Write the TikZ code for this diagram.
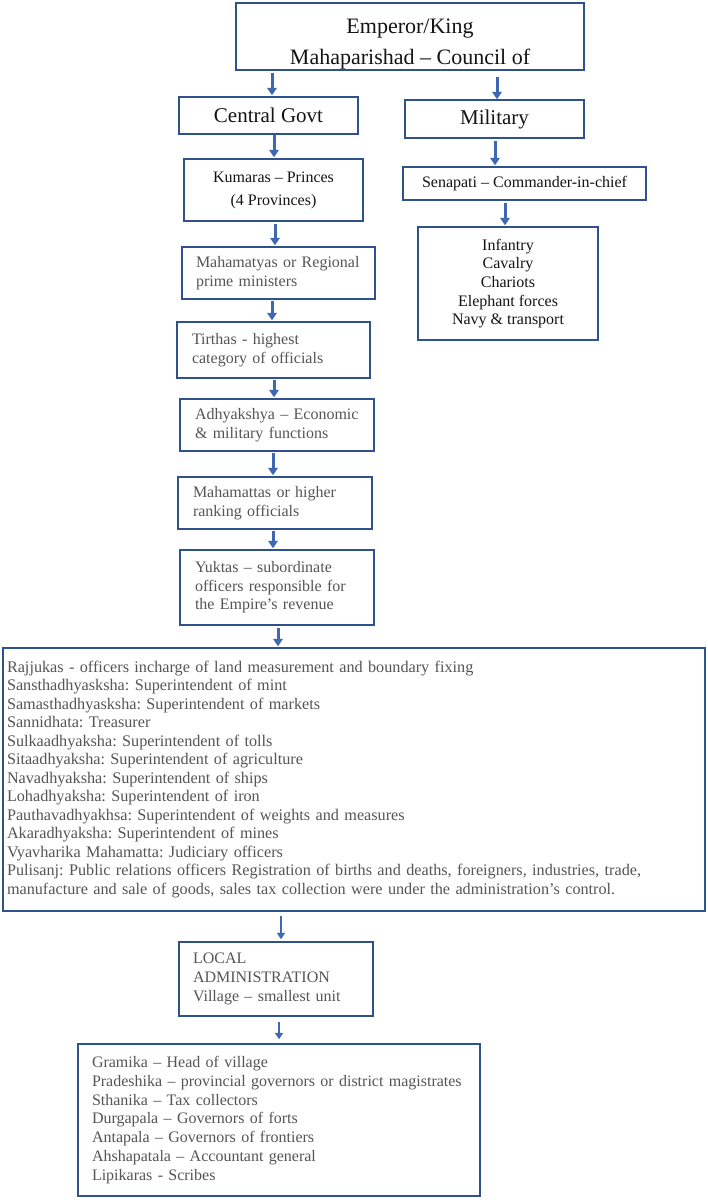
\documentclass[tikz,border=0pt]{standalone}
\usepackage{fontspec}
\setmainfont{Liberation Serif}
\usetikzlibrary{arrows.meta}
\definecolor{boxc}{HTML}{2F528F}
\definecolor{arrc}{HTML}{3E68B4}
\definecolor{txtg}{HTML}{555555}
\definecolor{txtd}{HTML}{141414}
\begin{document}
\frenchspacing
\begin{tikzpicture}[x=1pt,y=-1pt,
  box/.style={draw=boxc, line width=1.4pt, rectangle, inner sep=0pt, fill=white},
  cbox/.style={box, align=center, text=txtd},
  lbox/.style={box, align=left, text=txtg},
  arr/.style={draw=arrc, line width=3pt, -{Triangle[width=9.5pt,length=7.5pt]}},
  sarr/.style={draw=arrc, line width=2.6pt, -{Triangle[width=8pt,length=6.5pt]}},
  f22/.style={font=\fontsize{22}{31}\selectfont},
  f21/.style={font=\fontsize{21}{25}\selectfont},
  f16/.style={font=\fontsize{16}{19}\selectfont},
  fbig/.style={font=\fontsize{16.2}{18.5}\selectfont}
]
\useasboundingbox (0,0) rectangle (708,1200);
\fill[white] (0,0) rectangle (708,1200);

\node[cbox, f22, minimum width=348pt, minimum height=67pt] (emp) at (410,36.5)
  {\rule{0pt}{30pt}Emperor/King\\Mahaparishad – Council of};
\node[cbox, f21, minimum width=179pt, minimum height=37pt] (cg) at (268.5,115.5) {Central Govt};
\node[cbox, f21, minimum width=179pt, minimum height=38pt] (mil) at (494.5,119) {Military};
\node[cbox, font=\fontsize{16}{23}\selectfont, minimum width=179pt, minimum height=62pt] (kum) at (273.5,190)
  {Kumaras – Princes\\(4 Provinces)};
\node[cbox, f16, minimum width=243pt, minimum height=33pt] (sen) at (524.5,183.5)
  {Senapati – Commander-in-chief};
\node[cbox, font=\fontsize{16}{18.7}\selectfont, minimum width=180pt, minimum height=113pt] (inf) at (508,283.5)
  {Infantry\\Cavalry\\Chariots\\Elephant forces\\Navy \& transport};

\node[lbox, f16, text width=165pt, inner xsep=14pt, minimum height=52pt] (mah1) at (278.5,273)
  {\mbox{Mahamatyas or Regional}\\prime ministers};
\node[lbox, f16, text width=163pt, inner xsep=15pt, minimum height=56pt] (tir) at (273.5,350)
  {\mbox{Tirthas - highest}\\\mbox{category of officials}};
\node[lbox, f16, text width=164pt, inner xsep=15pt, minimum height=52pt] (adh) at (277,425)
  {\mbox{Adhyakshya – Economic}\\\mbox{\& military functions}};
\node[lbox, f16, text width=164pt, inner xsep=15pt, minimum height=52pt] (mah2) at (275,503)
  {\mbox{Mahamattas or higher}\\\mbox{ranking officials}};
\node[lbox, font=\fontsize{16}{18.5}\selectfont, text width=164pt, inner xsep=15pt, minimum height=75pt] (yuk) at (277,587.5)
  {\mbox{Yuktas – subordinate}\\\mbox{officers responsible for}\\\mbox{the Empire’s revenue}};

\node[lbox, fbig, text width=694pt, inner xsep=4pt, minimum height=263pt] (big) at (354,779.5)
  {Rajjukas - officers incharge of land measurement and boundary fixing\\
   Sansthadhyasksha: Superintendent of mint\\
   Samasthadhyasksha: Superintendent of markets\\
   Sannidhata: Treasurer\\
   Sulkaadhyaksha: Superintendent of tolls\\
   Sitaadhyaksha: Superintendent of agriculture\\
   Navadhyaksha: Superintendent of ships\\
   Lohadhyaksha: Superintendent of iron\\
   Pauthavadhyakhsa: Superintendent of weights and measures\\
   Akaradhyaksha: Superintendent of mines\\
   Vyavharika Mahamatta: Judiciary officers\\
   \mbox{Pulisanj: Public relations officers Registration of births and deaths, foreigners, industries, trade,}\\
   \mbox{manufacture and sale of goods, sales tax collection were under the administration’s control.}};

\node[lbox, font=\fontsize{16}{18.7}\selectfont, text width=166pt, inner xsep=14pt, minimum height=74pt] (loc) at (276,979)
  {LOCAL\\ADMINISTRATION\\Village – smallest unit};

\node[lbox, font=\fontsize{16}{18.7}\selectfont, text width=374pt, inner xsep=14pt, minimum height=152pt] (fin) at (279,1120)
  {Gramika – Head of village\\
   \mbox{Pradeshika – provincial governors or district magistrates}\\
   Sthanika – Tax collectors\\
   Durgapala – Governors of forts\\
   Antapala – Governors of frontiers\\
   Ahshapatala – Accountant general\\
   Lipikaras - Scribes};

\draw[arr] ([xshift=-138pt,yshift=-2pt]emp.south) -- ([xshift=3.5pt,yshift=1pt]cg.north);
\draw[arr] ([xshift=87pt,yshift=-6pt]emp.south) -- ([xshift=2.5pt]mil.north);
\draw[arr] ([xshift=5.5pt]cg.south) -- ([xshift=0.5pt,yshift=1pt]kum.north);
\draw[arr] ([xshift=0.5pt,yshift=-2pt]mil.south) -- ([xshift=-29.5pt,yshift=1pt]sen.north);
\draw[arr] ([xshift=-19.5pt,yshift=-2pt]sen.south) -- ([xshift=-3pt,yshift=1pt]inf.north);
\draw[arr] ([xshift=1.5pt,yshift=-2pt]kum.south) -- ([xshift=-3.5pt,yshift=1pt]mah1.north);
\draw[arr] ([xshift=-6.5pt,yshift=-1pt]mah1.south) -- ([xshift=-1.5pt,yshift=1pt]tir.north);
\draw[arr] ([xshift=0.5pt,yshift=-1pt]tir.south) -- ([xshift=-3pt,yshift=1pt]adh.north);
\draw[arr] ([xshift=-4pt,yshift=-1pt]adh.south) -- ([xshift=-2pt,yshift=1pt]mah2.north);
\draw[arr] ([xshift=-2pt,yshift=-1pt]mah2.south) -- ([xshift=-4pt,yshift=1pt]yuk.north);
\draw[arr] ([xshift=1pt,yshift=-2pt]yuk.south) -- ([xshift=-76pt,yshift=1pt]big.north);
\draw[sarr] ([xshift=-73pt,yshift=-4pt]big.south) -- ([xshift=5pt,yshift=2pt]loc.north);
\draw[sarr] ([xshift=3pt,yshift=-5pt]loc.south) -- ([xshift=0pt,yshift=4pt]fin.north);
\end{tikzpicture}
\end{document}
